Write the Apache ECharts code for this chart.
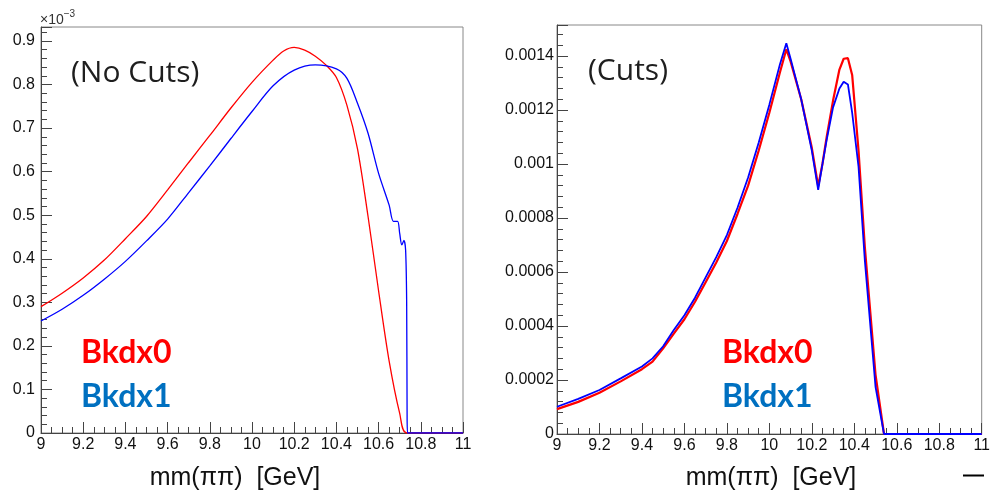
<!DOCTYPE html>
<html>
<head>
<meta charset="utf-8">
<script src="https://cdn.jsdelivr.net/npm/echarts@6/dist/echarts.min.js"></script>
<style>html,body{margin:0;padding:0;background:#fff;}#c{width:993px;height:498px;}</style>
</head>
<body>
<div id="c"></div>
<script>
// ---- Left panel (No Cuts), values in units of 1e-3 ----
const leftRedX  = [9.0, 9.1, 9.2, 9.3, 9.4, 9.5, 9.6, 9.7, 9.8, 9.9, 10.0, 10.1, 10.15, 10.2, 10.25, 10.3, 10.35, 10.4, 10.45, 10.5, 10.55, 10.6, 10.65, 10.7, 10.733, 11.0];
const leftRedY  = [0.290, 0.321, 0.356, 0.397, 0.446, 0.497, 0.558, 0.621, 0.683, 0.746, 0.805, 0.856, 0.877, 0.885, 0.879, 0.865, 0.845, 0.816, 0.752, 0.652, 0.497, 0.326, 0.165, 0.045, 0, 0];
const leftBlueX = [9.0, 9.1, 9.2, 9.3, 9.4, 9.5, 9.6, 9.7, 9.8, 9.9, 10.0, 10.1, 10.2, 10.3, 10.4, 10.45, 10.5, 10.55, 10.6, 10.65, 10.67, 10.69, 10.70, 10.71, 10.72, 10.728, 10.733, 10.735, 10.737, 10.76, 11.0];
const leftBlueY = [0.257, 0.284, 0.316, 0.353, 0.394, 0.441, 0.491, 0.552, 0.613, 0.676, 0.738, 0.797, 0.833, 0.845, 0.836, 0.814, 0.757, 0.688, 0.596, 0.523, 0.486, 0.486, 0.458, 0.432, 0.442, 0.420, 0.300, 0.050, 0, 0, 0];

// ---- Right panel (Cuts) ----
const rightX    = [9.0, 9.1, 9.2, 9.3, 9.4, 9.45, 9.5, 9.55, 9.6, 9.65, 9.7, 9.75, 9.8, 9.85, 9.9, 9.95, 10.0, 10.05, 10.08, 10.1, 10.15, 10.2, 10.23, 10.25, 10.27, 10.3, 10.33, 10.35, 10.37, 10.39, 10.42, 10.45, 10.5, 10.54, 11.0];
const rightRed  = [0.000092, 0.000119, 0.000153, 0.000195, 0.000240, 0.000268, 0.000317, 0.000372, 0.000425, 0.000490, 0.000562, 0.000635, 0.000715, 0.000815, 0.000920, 0.001050, 0.001190, 0.001340, 0.001425, 0.001380, 0.001240, 0.001060, 0.000918, 0.001000, 0.001100, 0.001235, 0.001350, 0.001390, 0.001392, 0.001330, 0.001050, 0.000690, 0.000220, 0, 0];
const rightBlue = [0.000101, 0.000130, 0.000163, 0.000206, 0.000250, 0.000280, 0.000325, 0.000385, 0.000440, 0.000505, 0.000580, 0.000655, 0.000737, 0.000838, 0.000950, 0.001080, 0.001220, 0.001370, 0.001447, 0.001390, 0.001240, 0.001050, 0.000904, 0.001000, 0.001090, 0.001210, 0.001280, 0.001305, 0.001295, 0.001190, 0.000990, 0.000640, 0.000175, 0, 0];

const leftYTicks = { min: 0, max: 0.932, interval: 0.1 };
const rightYTicks = { min: 0, max: 0.001515, interval: 0.0002 };
const xTicks = { min: 9, max: 11, interval: 0.2 };

const labelFont = { fontFamily: 'Liberation Sans, Arial, sans-serif', fontSize: 16, color: '#111' };
const zip = (xs, ys) => xs.map((x, i) => [x, ys[i]]);

function xAxisFor(gi) {
  return {
    type: 'value', gridIndex: gi, min: xTicks.min, max: xTicks.max, interval: xTicks.interval,
    axisLine: { show: true, onZero: false, lineStyle: { color: '#444', width: 1 } },
    axisTick: { show: true, inside: true, length: 11, lineStyle: { color: '#444' } },
    minorTick: { show: true, splitNumber: 4, length: 6, lineStyle: { color: '#444' } },
    splitLine: { show: false },
    axisLabel: Object.assign({ margin: 4 }, labelFont)
  };
}
function yAxisFor(gi, t, margin) {
  return {
    type: 'value', gridIndex: gi, min: t.min, max: t.max, interval: t.interval,
    axisLine: { show: true, lineStyle: { color: '#444', width: 1 } },
    axisTick: { show: true, inside: true, length: 11, lineStyle: { color: '#444' } },
    minorTick: { show: true, splitNumber: 5, length: 6, lineStyle: { color: '#444' } },
    splitLine: { show: false },
    axisLabel: Object.assign({ margin: margin, showMaxLabel: false }, labelFont)
  };
}

const chart = echarts.init(document.getElementById('c'), null, { renderer: 'canvas' });
chart.setOption({
  animation: false,
  backgroundColor: '#fff',
  grid: [
    { left: 41, top: 27, width: 422, height: 406, show: true, borderColor: '#888', borderWidth: 1, backgroundColor: 'transparent' },
    { left: 557, top: 25, width: 427, height: 409, show: true, borderColor: '#888', borderWidth: 1, backgroundColor: 'transparent' }
  ],
  xAxis: [xAxisFor(0), xAxisFor(1)],
  yAxis: [yAxisFor(0, leftYTicks, 6), yAxisFor(1, rightYTicks, 3)],
  series: [
    { name: 'Bkdx0', type: 'line', xAxisIndex: 0, yAxisIndex: 0, data: zip(leftRedX, leftRedY), showSymbol: false, smooth: 0.3, lineStyle: { color: '#ff0000', width: 1.3 } },
    { name: 'Bkdx1', type: 'line', xAxisIndex: 0, yAxisIndex: 0, data: zip(leftBlueX, leftBlueY), showSymbol: false, smooth: 0.3, lineStyle: { color: '#0000ff', width: 1.3 } },
    { name: 'Bkdx0', type: 'line', xAxisIndex: 1, yAxisIndex: 1, data: zip(rightX, rightRed), showSymbol: false, smooth: false, lineStyle: { color: '#ff0000', width: 2.2 } },
    { name: 'Bkdx1', type: 'line', xAxisIndex: 1, yAxisIndex: 1, data: zip(rightX, rightBlue), showSymbol: false, smooth: false, lineStyle: { color: '#0000ff', width: 1.8 } }
  ],
  graphic: [
    { type: 'text', left: 40, top: 9, style: { rich: { a: { fontFamily: 'Liberation Sans, Arial', fontSize: 14, fill: '#333', padding: [6, 0, 0, 0] }, b: { fontFamily: 'Liberation Sans, Arial', fontSize: 10, fill: '#333', padding: [0, 0, 6, 0] } }, text: '{a|×10}{b|−3}' } },
    { type: 'text', left: 71, top: 58, style: { text: '(No Cuts)', fontFamily: 'Open Sans', fontSize: 30, fill: '#1e1e1e' } },
    { type: 'text', left: 588, top: 56, style: { text: '(Cuts)', fontFamily: 'Open Sans', fontSize: 30, fill: '#1e1e1e' } },
    { type: 'text', left: 81, top: 337, style: { text: 'Bkdx0', fontFamily: 'Lato', fontWeight: 'bold', fontSize: 32, fill: '#ff0000' } },
    { type: 'text', left: 81, top: 381, style: { text: 'Bkdx1', fontFamily: 'Lato', fontWeight: 'bold', fontSize: 32, fill: '#0070c0' } },
    { type: 'text', left: 722, top: 337, style: { text: 'Bkdx0', fontFamily: 'Lato', fontWeight: 'bold', fontSize: 32, fill: '#ff0000' } },
    { type: 'text', left: 722, top: 381, style: { text: 'Bkdx1', fontFamily: 'Lato', fontWeight: 'bold', fontSize: 32, fill: '#0070c0' } },
    { type: 'text', x: 235, y: 478, style: { text: 'mm(ππ)  [GeV]', fontFamily: 'Liberation Sans, Arial', fontSize: 25, fill: '#111', align: 'center', verticalAlign: 'middle' } },
    { type: 'text', x: 771, y: 478, style: { text: 'mm(ππ)  [GeV]', fontFamily: 'Liberation Sans, Arial', fontSize: 25, fill: '#111', align: 'center', verticalAlign: 'middle' } },
    { type: 'line', shape: { x1: 963, y1: 475.5, x2: 984, y2: 475.5 }, style: { stroke: '#000', lineWidth: 2 } }
  ]
});
</script>
</body>
</html>
